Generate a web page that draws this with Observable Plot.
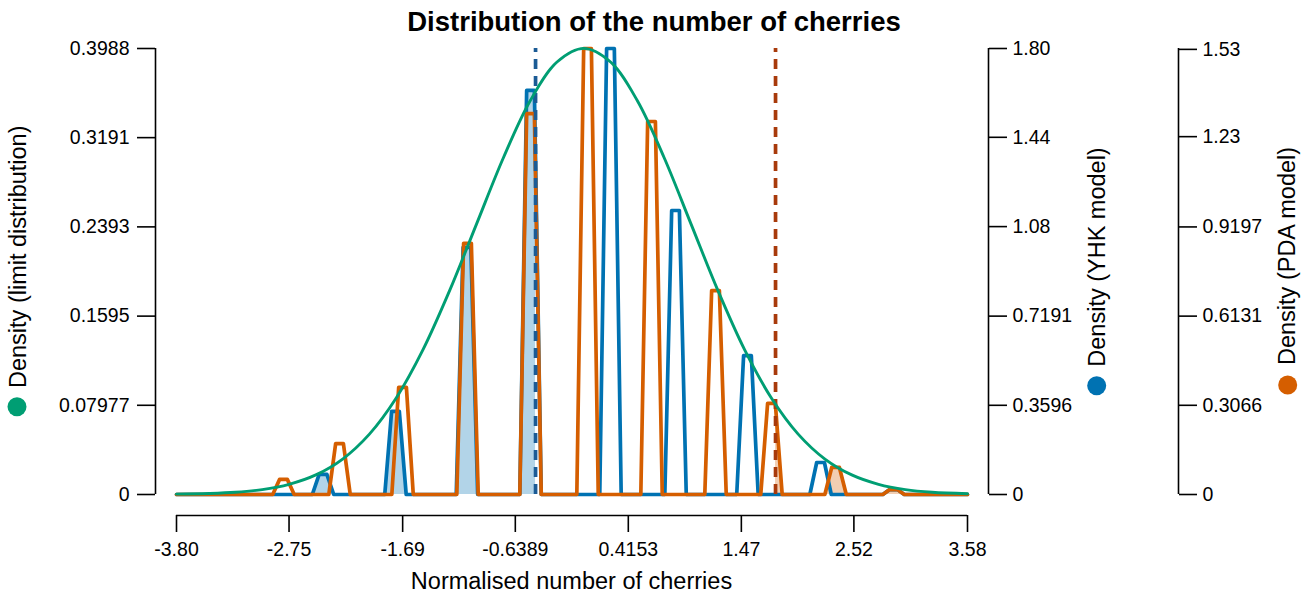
<!DOCTYPE html>
<html>
<head>
<meta charset="utf-8">
<script src="https://cdn.jsdelivr.net/npm/d3@7"></script>
<script src="https://cdn.jsdelivr.net/npm/@observablehq/plot@0.6"></script>
<style>
  body { margin: 0; background: #fff; }
  #chart svg { font-family: "Liberation Sans", Arial, sans-serif; }
</style>
</head>
<body>
<div id="chart"></div>
<script>
// ---- tick labels ----
const xTickLabels = ["-3.80", "-2.75", "-1.69", "-0.6389", "0.4153", "1.47", "2.52", "3.58"];
const limitTickLabels = ["0", "0.07977", "0.1595", "0.2393", "0.3191", "0.3988"];
const yhkTickLabels = ["0", "0.3596", "0.7191", "1.08", "1.44", "1.80"];
const pdaTickLabels = ["0", "0.3066", "0.6131", "0.9197", "1.23", "1.53"];

// ---- limit distribution (green curve) ----
const limitX = [-3.80, -3.5, -3.25, -3.0, -2.75, -2.5, -2.25, -2.0, -1.75, -1.5, -1.25, -1.0, -0.75, -0.5, -0.25, 0,
                0.25, 0.5, 0.75, 1.0, 1.25, 1.5, 1.75, 2.0, 2.25, 2.5, 2.75, 3.0, 3.25, 3.58];
const limitDensity = [0.0003, 0.0009, 0.0020, 0.0044, 0.0091, 0.0175, 0.0317, 0.0540, 0.0863, 0.1295, 0.1827, 0.2420, 0.3011, 0.3521, 0.3867, 0.3989,
                      0.3867, 0.3521, 0.3011, 0.2420, 0.1827, 0.1295, 0.0863, 0.0540, 0.0317, 0.0175, 0.0091, 0.0044, 0.0020, 0.0007];

// ---- YHK model (blue) spikes ----
const yhkX = [-2.433, -1.757, -1.090, -0.497, 0.249, 0.856, 1.527, 2.209, 2.890];
const yhkDensity = [0.081, 0.335, 0.996, 1.629, 1.798, 1.145, 0.560, 0.129, 0.020];

// ---- PDA model (orange) spikes ----
const pdaX = [-2.802, -2.279, -1.691, -1.085, -0.497, 0.035, 0.632, 1.229, 1.751, 2.349, 2.890];
const pdaDensity = [0.052, 0.175, 0.368, 0.863, 1.309, 1.533, 1.282, 0.701, 0.313, 0.093, 0.017];

// ---- thresholds (dashed lines) ----
const yhkThreshold = -0.45;
const pdaThreshold = 1.789;

// ---- axis extents ----
const xMin = -3.80, xMax = 3.58;
const limitMax = 0.3988, yhkMax = 1.798, pdaMax = 1.533;

// spike shape half-widths (data units)
const topHalf = 0.036, baseHalf = 0.10;

function spikeLine(xs, dens, max) {
  const pts = [{x: xMin, y: 0}];
  xs.forEach((c, i) => {
    const h = dens[i] / max * limitMax;
    pts.push({x: c - baseHalf, y: 0}, {x: c - topHalf, y: h}, {x: c + topHalf, y: h}, {x: c + baseHalf, y: 0});
  });
  pts.push({x: xMax, y: 0});
  return pts;
}
function clipRange(pts, lo, hi) {
  const out = [];
  for (let i = 0; i < pts.length; i++) {
    const p = pts[i];
    if (i > 0) {
      const q = pts[i - 1];
      for (const b of [lo, hi]) {
        if ((q.x < b && p.x > b) || (q.x > b && p.x < b)) {
          const t = (b - q.x) / (p.x - q.x);
          out.push({x: b, y: q.y + t * (p.y - q.y)});
        }
      }
    }
    if (p.x >= lo && p.x <= hi) out.push(p);
  }
  return out;
}

const yhkLine = spikeLine(yhkX, yhkDensity, yhkMax);
const pdaLine = spikeLine(pdaX, pdaDensity, pdaMax);
const yhkFill = clipRange(yhkLine, xMin, yhkThreshold);
const pdaFill = clipRange(pdaLine, pdaThreshold, xMax);
const limitLine = limitX.map((x, i) => ({x, y: limitDensity[i]}));

const xTicks = xTickLabels.map(Number);
const limitTicks = limitTickLabels.map(Number);
const yhkTicks = yhkTickLabels.map(s => Math.min(limitMax, Number(s) / yhkMax * limitMax));
const pdaTicks = pdaTickLabels.map(s => Math.min(limitMax, Number(s) / pdaMax * limitMax));
const fmt = (vals, labels) => { const m = new Map(vals.map((v, i) => [v, labels[i]])); return d => m.get(d); };

const GREEN = "#009E73", BLUE = "#0072B2", ORANGE = "#D55E00";
const tickFont = 19.5;

const chart = Plot.plot({
  width: 1314,
  height: 596,
  marginLeft: 155,
  marginRight: 326,
  marginTop: 48,
  marginBottom: 81,
  insetLeft: 21,
  insetRight: 21,
  insetBottom: 21,
  style: {fontFamily: '"Liberation Sans", Arial, sans-serif', fontSize: tickFont + "px", color: "#000", background: "#fff"},
  x: {domain: [xMin, xMax], axis: null},
  y: {domain: [0, limitMax], axis: null},
  marks: [
    Plot.areaY(yhkFill, {x: "x", y: "y", fill: BLUE, fillOpacity: 0.3}),
    Plot.areaY(pdaFill, {x: "x", y: "y", fill: ORANGE, fillOpacity: 0.3}),
    Plot.line(yhkLine, {x: "x", y: "y", stroke: BLUE, strokeWidth: 3.7}),
    Plot.line(pdaLine, {x: "x", y: "y", stroke: ORANGE, strokeWidth: 3.7}),
    Plot.ruleX([yhkThreshold], {y1: 0, y2: limitMax, stroke: "#1b5b95", strokeWidth: 3.7, strokeDasharray: "10,7"}),
    Plot.ruleX([pdaThreshold], {y1: 0, y2: limitMax, stroke: "#a83a0b", strokeWidth: 3.7, strokeDasharray: "10,7"}),
    Plot.line(limitLine, {x: "x", y: "y", stroke: GREEN, strokeWidth: 2.9, curve: "catmull-rom"}),
    // spines
    Plot.ruleY([0], {x1: xMin, x2: xMax, dy: 21, stroke: "#000", strokeWidth: 1.6}),
    Plot.ruleX([xMin], {y1: 0, y2: limitMax, dx: -21, stroke: "#000", strokeWidth: 1.6}),
    Plot.ruleX([xMax], {y1: 0, y2: limitMax, dx: 21, stroke: "#000", strokeWidth: 1.6}),
    Plot.ruleX([xMax], {y1: 0, y2: limitMax, dx: 211, stroke: "#000", strokeWidth: 1.6}),
    // axes
    Plot.axisX(xTicks, {anchor: "bottom", tickSize: 17, tickPadding: 10, tickFormat: fmt(xTicks, xTickLabels), label: null, strokeWidth: 1.6}),
    Plot.axisY(limitTicks, {anchor: "left", tickSize: 18, tickPadding: 8, tickFormat: fmt(limitTicks, limitTickLabels), label: null, strokeWidth: 1.6}),
    Plot.axisY(yhkTicks, {anchor: "right", tickSize: 18, tickPadding: 6, tickFormat: fmt(yhkTicks, yhkTickLabels), label: null, strokeWidth: 1.6}),
    Plot.axisY(pdaTicks, {anchor: "right", dx: 190, tickSize: 18, tickPadding: 6, tickFormat: fmt(pdaTicks, pdaTickLabels), label: null, strokeWidth: 1.6})
  ]
});

const svg = d3.select(chart);
svg.append("text").attr("x", 654).attr("y", 31).attr("text-anchor", "middle")
  .attr("font-size", 27.5).attr("font-weight", "bold").attr("fill", "#000")
  .text("Distribution of the number of cherries");
svg.append("text").attr("x", 571.5).attr("y", 581).attr("dy", "0.35em").attr("text-anchor", "middle")
  .attr("font-size", 23.5).attr("fill", "#000")
  .text("Normalised number of cherries");

const legends = [
  {label: "Density (limit distribution)", color: GREEN, cx: 17, cy: 406.7, tx: 18, ty: 388},
  {label: "Density (YHK model)", color: BLUE, cx: 1096.7, cy: 385.7, tx: 1096.3, ty: 366.7},
  {label: "Density (PDA model)", color: ORANGE, cx: 1287.7, cy: 385, tx: 1286.3, ty: 365}
];
for (const l of legends) {
  svg.append("circle").attr("cx", l.cx).attr("cy", l.cy).attr("r", 9.5).attr("fill", l.color);
  svg.append("text").attr("transform", `translate(${l.tx},${l.ty}) rotate(-90)`).attr("dy", "0.35em")
    .attr("text-anchor", "start").attr("font-size", 23.5).attr("fill", "#000").text(l.label);
}
document.getElementById("chart").appendChild(chart);
</script>
</body>
</html>
